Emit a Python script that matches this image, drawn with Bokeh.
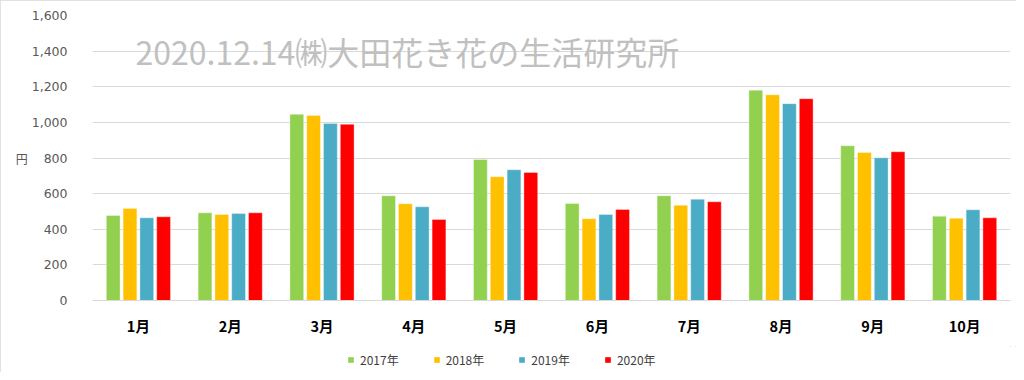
from bokeh.plotting import figure
from bokeh.layouts import column
from bokeh.models import ColumnDataSource, Legend, LegendItem, Label, NumeralTickFormatter, FixedTicker, Range1d
from bokeh.embed import file_html
from bokeh.resources import INLINE

months = ["1月", "2月", "3月", "4月", "5月", "6月", "7月", "8月", "9月", "10月"]
years = ["2017年", "2018年", "2019年", "2020年"]
v2017 = [477, 492, 1045, 588, 792, 545, 588, 1181, 869, 473]
v2018 = [517, 483, 1039, 543, 695, 459, 535, 1155, 831, 462]
v2019 = [464, 489, 994, 526, 734, 483, 569, 1105, 801, 509]
v2020 = [470, 492, 989, 455, 719, 511, 554, 1133, 835, 464]
series = [v2017, v2018, v2019, v2020]
colors = ["#92D050", "#FFC000", "#4BACC6", "#FF0000"]
yticks = [0, 200, 400, 600, 800, 1000, 1200, 1400, 1600]
watermark = "2020.12.14㈱大田花き花の生活研究所"

CJK = "Noto Sans CJK JP"

p = figure(width=1016, height=346, output_backend="svg", toolbar_location=None,
           x_range=Range1d(-0.5, len(months) - 0.5), y_range=Range1d(0, 1600),
           min_border_left=92, min_border_right=6, min_border_top=15, min_border_bottom=46)
p.outline_line_color = None

idx = list(range(len(months)))
step = 0.183
for k, (vals, col) in enumerate(zip(series, colors)):
    off = (k - 1.5) * step
    src = ColumnDataSource(dict(x=[i + off for i in idx], top=vals))
    p.vbar(x="x", top="top", width=0.15, bottom=0, source=src,
           fill_color=col, line_color="white", line_width=0.6, line_alpha=0.6)

# axes
p.xgrid.grid_line_color = None
p.ygrid.grid_line_color = "#D9D9D9"
p.ygrid.grid_line_width = 1
p.yaxis.ticker = FixedTicker(ticks=yticks)
p.yaxis.formatter = NumeralTickFormatter(format="0,0")
p.yaxis.axis_line_color = None
p.yaxis.major_tick_line_color = None
p.yaxis.minor_tick_line_color = None
p.yaxis.major_label_text_font = "DejaVu Sans"
p.yaxis.major_label_text_font_size = "12.5px"
p.yaxis.major_label_text_color = "#595959"
p.yaxis.major_label_standoff = 19
p.yaxis.axis_label = "円"
p.yaxis.axis_label_orientation = "horizontal"
p.yaxis.axis_label_text_font = CJK
p.yaxis.axis_label_text_font_style = "normal"
p.yaxis.axis_label_text_font_size = "12px"
p.yaxis.axis_label_text_color = "#595959"
p.yaxis.axis_label_standoff = 1

p.xaxis.ticker = FixedTicker(ticks=idx)
p.xaxis.major_label_overrides = {i: m for i, m in enumerate(months)}
p.xaxis.axis_line_color = "#D9D9D9"
p.xaxis.major_tick_line_color = None
p.xaxis.minor_tick_line_color = None
p.xaxis.major_label_text_font = CJK
p.xaxis.major_label_text_font_style = "bold"
p.xaxis.major_label_text_font_size = "14.5px"
p.xaxis.major_label_text_color = "#000000"
p.xaxis.major_label_standoff = 8

wm = Label(x=-0.032, y=1400, text=watermark, text_font=CJK, text_font_size="32px",
           text_color="#C0C0C0", text_baseline="middle", text_align="left")
p.add_layout(wm)

# legend in its own strip
lf = figure(width=1016, height=26, output_backend="svg", toolbar_location=None,
            x_range=Range1d(0, 1), y_range=Range1d(0, 1),
            min_border_left=0, min_border_right=0, min_border_top=0, min_border_bottom=0)
lf.outline_line_color = None
lf.axis.visible = False
lf.grid.visible = False
items = []
for col, yr in zip(colors, years):
    r = lf.vbar(x=[10], top=[5], bottom=[4], width=0.1, fill_color=col, line_color=None)
    items.append(LegendItem(label=yr, renderers=[r]))
legend = Legend(items=items, orientation="horizontal", location=(255, 4),
                label_text_font=CJK, label_text_font_size="12px", label_text_color="#404040",
                glyph_width=7, glyph_height=7, label_standoff=6, spacing=34,
                padding=2, margin=0, border_line_color=None, background_fill_alpha=0)
lf.add_layout(legend, "center")

layout = column(p, lf, spacing=0,
                styles={"outline": "1px solid #D9D9D9", "outline-offset": "-1px"})
open("out.html", "w").write(file_html(layout, INLINE))
